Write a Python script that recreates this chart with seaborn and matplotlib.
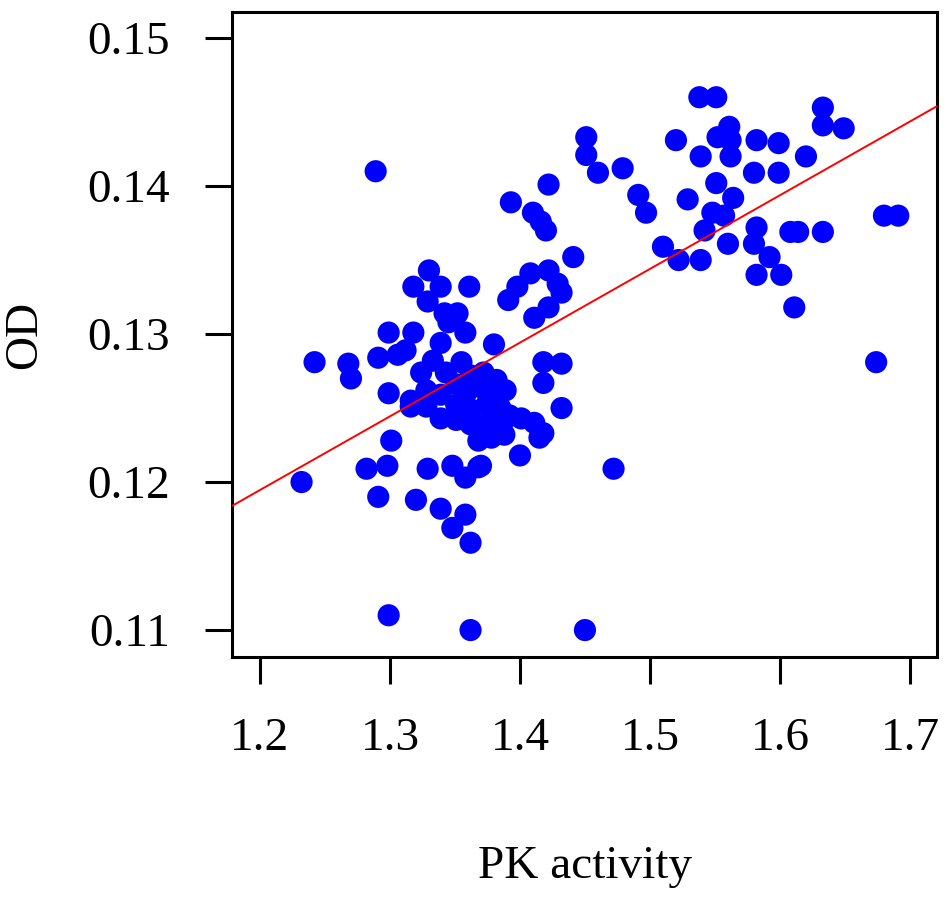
import matplotlib
matplotlib.use("Agg")
import matplotlib.pyplot as plt
import seaborn as sns
import pandas as pd

pk_activity = [
    1.232, 1.242, 1.268, 1.270, 1.289, 1.282, 1.291, 1.299, 1.298, 1.301,
    1.291, 1.306, 1.299, 1.318, 1.299, 1.316, 1.312, 1.320, 1.329, 1.339,
    1.348, 1.358, 1.370, 1.358, 1.348, 1.362, 1.362, 1.450, 1.472, 1.400,
    1.368, 1.378, 1.388, 1.415, 1.375, 1.388, 1.401, 1.411, 1.418, 1.389,
    1.418, 1.432, 1.368,
    1.330, 1.318, 1.339, 1.361, 1.329, 1.342, 1.352, 1.345, 1.358, 1.339, 1.380,
    1.333, 1.324, 1.343, 1.355, 1.362, 1.372, 1.351, 1.370, 1.328, 1.339,
    1.358, 1.316, 1.328, 1.351, 1.362, 1.374, 1.339, 1.351, 1.362, 1.370,
    1.379, 1.382, 1.385, 1.365, 1.392,
    1.391, 1.398, 1.408, 1.422, 1.429, 1.432, 1.422, 1.411, 1.418, 1.432, 1.441,
    1.422, 1.393, 1.410, 1.416, 1.420, 1.451, 1.451, 1.460, 1.479, 1.491, 1.497,
    1.538, 1.551, 1.633, 1.633, 1.649, 1.520, 1.552, 1.561, 1.562, 1.582,
    1.599, 1.539, 1.562, 1.620, 1.580, 1.599, 1.551, 1.529, 1.564, 1.548,
    1.557, 1.542, 1.560, 1.582, 1.580, 1.592, 1.608, 1.614, 1.633, 1.510,
    1.522, 1.539, 1.582, 1.601, 1.611, 1.680, 1.691, 1.674,
]
od = [
    0.1200, 0.1281, 0.1280, 0.1270, 0.1410, 0.1209, 0.1190, 0.1110, 0.1211, 0.1228,
    0.1284, 0.1286, 0.1301, 0.1301, 0.1260, 0.1251, 0.1289, 0.1188, 0.1209, 0.1182,
    0.1211, 0.1203, 0.1211, 0.1178, 0.1169, 0.1159, 0.1100, 0.1100, 0.1209, 0.1218,
    0.1228, 0.1230, 0.1232, 0.1230, 0.1240, 0.1242, 0.1243, 0.1240, 0.1233, 0.1262,
    0.1267, 0.1250, 0.1210,
    0.1343, 0.1332, 0.1332, 0.1332, 0.1322, 0.1314, 0.1314, 0.1308, 0.1301, 0.1294, 0.1293,
    0.1282, 0.1274, 0.1274, 0.1281, 0.1272, 0.1274, 0.1266, 0.1264, 0.1262, 0.1259,
    0.1259, 0.1255, 0.1251, 0.1252, 0.1249, 0.1252, 0.1243, 0.1242, 0.1239, 0.1235,
    0.1259, 0.1269, 0.1250, 0.1265, 0.1245,
    0.1323, 0.1332, 0.1341, 0.1343, 0.1334, 0.1328, 0.1318, 0.1311, 0.1281, 0.1280, 0.1352,
    0.1401, 0.1389, 0.1382, 0.1376, 0.1370, 0.1433, 0.1421, 0.1409, 0.1412, 0.1394, 0.1382,
    0.1460, 0.1460, 0.1453, 0.1441, 0.1439, 0.1431, 0.1433, 0.1440, 0.1431, 0.1431,
    0.1429, 0.1420, 0.1420, 0.1420, 0.1409, 0.1409, 0.1402, 0.1391, 0.1392, 0.1382,
    0.1380, 0.1370, 0.1361, 0.1372, 0.1361, 0.1352, 0.1369, 0.1369, 0.1369, 0.1359,
    0.1350, 0.1350, 0.1340, 0.1340, 0.1318, 0.1380, 0.1380, 0.1281,
]

fit_intercept = 0.0597
fit_slope = 0.0498

x_ticks = [1.2, 1.3, 1.4, 1.5, 1.6, 1.7]
x_tick_labels = ["1.2", "1.3", "1.4", "1.5", "1.6", "1.7"]
y_ticks = [0.11, 0.12, 0.13, 0.14, 0.15]
y_tick_labels = ["0.11", "0.12", "0.13", "0.14", "0.15"]

df = pd.DataFrame({"PK activity": pk_activity, "OD": od})

sns.set_style("white")
plt.rcParams["font.family"] = ["Liberation Serif", "DejaVu Serif"]
plt.rcParams["text.color"] = "black"
plt.rcParams["axes.labelcolor"] = "black"
plt.rcParams["xtick.color"] = "black"
plt.rcParams["ytick.color"] = "black"

fig = plt.figure(figsize=(9.5, 9.05), dpi=100)
ax = fig.add_axes([232 / 950, 1 - 657 / 905, 705 / 950, 645 / 905])

sns.scatterplot(data=df, x="PK activity", y="OD", ax=ax, color="#0000ff",
                s=255, linewidth=0, edgecolor="none", zorder=2)
ax.axline((0, fit_intercept), slope=fit_slope, color="#ff0000", lw=1.4, zorder=3)

ax.set_xlim(1.1785, 1.7208)
ax.set_ylim(0.10818, 0.15176)
ax.set_xticks(x_ticks)
ax.set_xticklabels(x_tick_labels)
ax.set_yticks(y_ticks)
ax.set_yticklabels(y_tick_labels)

for s in ax.spines.values():
    s.set_visible(True)
    s.set_color("black")
    s.set_linewidth(2.2)

ax.tick_params(axis="both", direction="out", length=19.5, width=2.2,
               colors="black", labelcolor="black", labelsize=34,
               bottom=True, left=True)
ax.tick_params(axis="x", pad=24)
ax.tick_params(axis="y", pad=25)

ax.set_xlabel("PK activity", fontsize=34, color="black")
ax.set_ylabel("OD", fontsize=34, color="black")
ax.xaxis.set_label_coords(0.5, (657 - 845) / 645)
ax.yaxis.set_label_coords((46 - 232) / 705, 0.5)

fig.savefig("out.png", dpi=100)
